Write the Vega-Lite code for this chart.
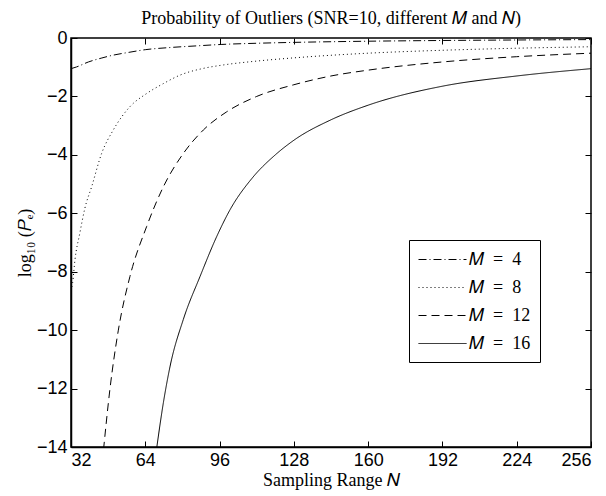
{
  "$schema": "https://vega.github.io/schema/vega-lite/v6.json",
  "autosize": {"type": "none"},
  "padding": {"left": 71, "top": 38, "right": 15, "bottom": 49},
  "width": 520,
  "height": 409,
  "background": "white",
  "title": {
    "text": "Probability of Outliers (SNR=10, different 𝑀 and 𝑁)",
    "font": "Liberation Serif",
    "fontSize": 18,
    "fontWeight": "normal",
    "color": "black",
    "offset": 1,
    "anchor": "middle"
  },
  "config": {
    "view": {"stroke": "black", "strokeWidth": 1.5},
    "axis": {
      "grid": false,
      "domainColor": "black",
      "domainWidth": 1.5,
      "tickColor": "black",
      "tickWidth": 1,
      "tickSize": -6,
      "labelColor": "black",
      "labelFont": "Liberation Sans",
      "labelFontSize": 18,
      "titleFont": "Liberation Serif",
      "titleFontSize": 18,
      "titleFontWeight": "normal",
      "titleColor": "black"
    },
    "legend": {
      "orient": "none",
      "legendX": 338,
      "legendY": 202,
      "strokeColor": "black",
      "fillColor": "white",
      "padding": 9,
      "symbolType": "M-1,0H3.8",
      "symbolSize": 400,
      "symbolStrokeWidth": 1,
      "symbolStrokeColor": "black",
      "labelFont": "Liberation Serif",
      "labelFontSize": 18,
      "labelColor": "black",
      "labelOffset": 30,
      "rowPadding": 8,
      "title": null
    }
  },
  "data": {
    "values": [
      {"s": "M = 4", "N": 32, "v": -1.05},
      {"s": "M = 4", "N": 34.4, "v": -0.99},
      {"s": "M = 4", "N": 39.5, "v": -0.82},
      {"s": "M = 4", "N": 45, "v": -0.69},
      {"s": "M = 4", "N": 50, "v": -0.59},
      {"s": "M = 4", "N": 57, "v": -0.49},
      {"s": "M = 4", "N": 64, "v": -0.4},
      {"s": "M = 4", "N": 74, "v": -0.33},
      {"s": "M = 4", "N": 86, "v": -0.27},
      {"s": "M = 4", "N": 97, "v": -0.22},
      {"s": "M = 4", "N": 112, "v": -0.18},
      {"s": "M = 4", "N": 128, "v": -0.15},
      {"s": "M = 4", "N": 160, "v": -0.11},
      {"s": "M = 4", "N": 192, "v": -0.085},
      {"s": "M = 4", "N": 224, "v": -0.068},
      {"s": "M = 4", "N": 256, "v": -0.055},
      {"s": "M = 8", "N": 32, "v": -8.65},
      {"s": "M = 8", "N": 32.7, "v": -8.38},
      {"s": "M = 8", "N": 33.7, "v": -7.6},
      {"s": "M = 8", "N": 35.8, "v": -6.68},
      {"s": "M = 8", "N": 38, "v": -5.82},
      {"s": "M = 8", "N": 40.9, "v": -5.09},
      {"s": "M = 8", "N": 45.2, "v": -3.95},
      {"s": "M = 8", "N": 50.2, "v": -3.15},
      {"s": "M = 8", "N": 57.4, "v": -2.35},
      {"s": "M = 8", "N": 64.6, "v": -1.9},
      {"s": "M = 8", "N": 71.8, "v": -1.56},
      {"s": "M = 8", "N": 79, "v": -1.27},
      {"s": "M = 8", "N": 89, "v": -1.04},
      {"s": "M = 8", "N": 97, "v": -0.93},
      {"s": "M = 8", "N": 112, "v": -0.79},
      {"s": "M = 8", "N": 128, "v": -0.68},
      {"s": "M = 8", "N": 160, "v": -0.52},
      {"s": "M = 8", "N": 192, "v": -0.42},
      {"s": "M = 8", "N": 224, "v": -0.35},
      {"s": "M = 8", "N": 256, "v": -0.3},
      {"s": "M = 12", "N": 46, "v": -14.1},
      {"s": "M = 12", "N": 48.8, "v": -12.0},
      {"s": "M = 12", "N": 52.4, "v": -10.0},
      {"s": "M = 12", "N": 57.4, "v": -8.16},
      {"s": "M = 12", "N": 64.6, "v": -6.45},
      {"s": "M = 12", "N": 71.8, "v": -5.09},
      {"s": "M = 12", "N": 80.4, "v": -3.95},
      {"s": "M = 12", "N": 89, "v": -3.15},
      {"s": "M = 12", "N": 99, "v": -2.53},
      {"s": "M = 12", "N": 112, "v": -2.0},
      {"s": "M = 12", "N": 128, "v": -1.6},
      {"s": "M = 12", "N": 144, "v": -1.3},
      {"s": "M = 12", "N": 160, "v": -1.1},
      {"s": "M = 12", "N": 192, "v": -0.82},
      {"s": "M = 12", "N": 224, "v": -0.64},
      {"s": "M = 12", "N": 256, "v": -0.52},
      {"s": "M = 16", "N": 68.8, "v": -14.1},
      {"s": "M = 16", "N": 71.8, "v": -12.48},
      {"s": "M = 16", "N": 74.7, "v": -11.23},
      {"s": "M = 16", "N": 80.4, "v": -9.63},
      {"s": "M = 16", "N": 87.6, "v": -8.16},
      {"s": "M = 16", "N": 94.8, "v": -6.79},
      {"s": "M = 16", "N": 100.5, "v": -5.88},
      {"s": "M = 16", "N": 110, "v": -4.8},
      {"s": "M = 16", "N": 120, "v": -4.0},
      {"s": "M = 16", "N": 128, "v": -3.5},
      {"s": "M = 16", "N": 144, "v": -2.8},
      {"s": "M = 16", "N": 160, "v": -2.3},
      {"s": "M = 16", "N": 192, "v": -1.65},
      {"s": "M = 16", "N": 224, "v": -1.3},
      {"s": "M = 16", "N": 256, "v": -1.05}
    ]
  },
  "layer": [
    {
      "mark": {"type": "line", "color": "black", "strokeWidth": 1, "clip": true, "interpolate": "monotone"},
      "encoding": {
        "x": {
          "field": "N", "type": "quantitative",
          "scale": {"domain": [32, 256], "nice": false, "zero": false},
          "axis": {"values": [32, 64, 96, 128, 160, 192, 224, 256], "title": "Sampling Range 𝑁", "labelPadding": 10, "titlePadding": 2}
        },
        "y": {
          "field": "v", "type": "quantitative",
          "scale": {"domain": [-14, 0], "nice": false, "zero": false},
          "axis": {"values": [-14, -12, -10, -8, -6, -4, -2, 0], "title": "log₁₀ (𝑃ₑ)", "labelPadding": 10, "titlePadding": 2}
        },
        "detail": {"field": "s"},
        "strokeDash": {
          "field": "s", "type": "nominal",
          "scale": {
            "domain": ["M = 4", "M = 8", "M = 12", "M = 16"],
            "range": [[8, 3, 1, 3], [1, 3], [8, 5], [1, 0]]
          },
          "legend": {"labelExpr": "replace(replace(datum.label, 'M', '𝑀'), ' = ', '\u2002=\u2002')"}
        }
      }
    },
    {
      "mark": {"type": "line", "opacity": 0, "clip": true},
      "encoding": {
        "x": {"field": "N", "type": "quantitative", "axis": {"orient": "top", "values": [32, 64, 96, 128, 160, 192, 224, 256], "labels": false, "title": null, "domain": false, "minExtent": 0, "maxExtent": 0}},
        "y": {"field": "v", "type": "quantitative", "axis": {"orient": "right", "values": [-14, -12, -10, -8, -6, -4, -2, 0], "labels": false, "title": null, "domain": false, "minExtent": 0, "maxExtent": 0}},
        "detail": {"field": "s"}
      }
    }
  ],
  "resolve": {"axis": {"x": "independent", "y": "independent"}}
}
